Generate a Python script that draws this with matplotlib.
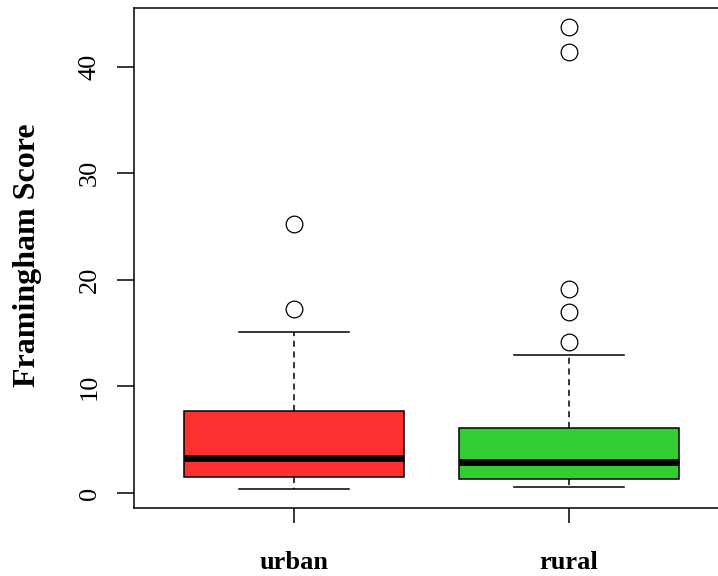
import matplotlib
matplotlib.use("Agg")
import matplotlib.pyplot as plt

categories = ["urban", "rural"]
whislo = [0.40, 0.56]
q1 = [1.47, 1.28]
med = [3.31, 2.88]
q3 = [7.69, 6.07]
whishi = [15.13, 12.92]
fliers = [[17.23, 25.23], [14.14, 16.95, 19.11, 41.34, 43.68]]
colors = ["#FF3030", "#32CD32"]
yticks = [0, 10, 20, 30, 40]

stats = []
for i, c in enumerate(categories):
    stats.append(dict(label=c, whislo=whislo[i], q1=q1[i], med=med[i],
                      q3=q3[i], whishi=whishi[i], fliers=fliers[i]))

fig = plt.figure(figsize=(7.18, 5.76), dpi=100)
ax = fig.add_axes([134/718, 1-507.7/576, 594.6/718, (507.7-8.3)/576])

bp = ax.bxp(stats, positions=[1, 2], widths=0.8, patch_artist=True,
            boxprops=dict(linewidth=1.1, edgecolor="black"),
            whiskerprops=dict(linewidth=1.1, linestyle=(0, (4, 3)), color="black"),
            capprops=dict(linewidth=1.1, color="black"),
            capwidths=0.4,
            medianprops=dict(linewidth=5, color="black", solid_capstyle="butt"),
            flierprops=dict(marker="o", markersize=12, markerfacecolor="none",
                            markeredgecolor="black", markeredgewidth=0.9))
for patch, col in zip(bp["boxes"], colors):
    patch.set_facecolor(col)

ax.set_xlim(0.42, 2.58)
ax.set_ylim(-1.38, 45.47)
ax.set_yticks(yticks)
ax.set_yticklabels([str(v) for v in yticks], rotation=90, va="center",
                   family="Liberation Serif", fontsize=19)
ax.set_xticks([1, 2])
ax.set_xticklabels(categories, family="Liberation Serif", fontsize=19,
                   fontweight="bold")
ax.tick_params(axis="y", length=12, width=1.1, pad=12)
ax.tick_params(axis="x", length=11, width=1.1, pad=20)
for s in ax.spines.values():
    s.set_linewidth(1.1)

fig.text(28/718, 1-255/576, "Framingham Score", rotation=90, ha="center",
         va="center", family="Liberation Serif", fontsize=23, fontweight="bold")

fig.savefig("out.png", dpi=100)
